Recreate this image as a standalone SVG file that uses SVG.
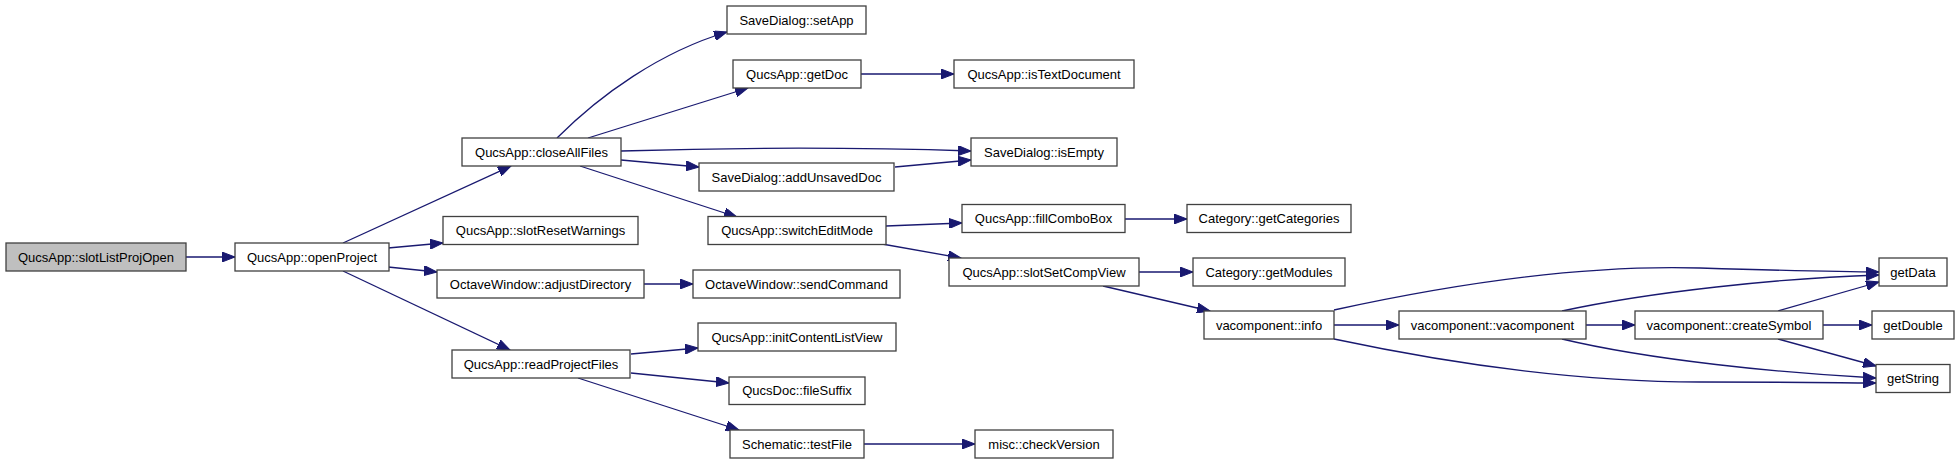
<svg xmlns="http://www.w3.org/2000/svg" width="1960" height="464" viewBox="0 0 1960 464">
<style>
.n rect{fill:#fff;stroke:#404040;stroke-width:1.3}
.n text{font-family:"Liberation Sans",Arial,sans-serif;font-size:13px;fill:#000;text-anchor:middle}
#e path{fill:none;stroke:#191970;stroke-width:1.3;marker-end:url(#a)}
</style>
<defs>
<marker id="a" markerUnits="userSpaceOnUse" markerWidth="14" markerHeight="10" refX="13" refY="5" orient="auto">
<path d="M0,0 L13,5 L0,10 z" fill="#191970" stroke="#191970" stroke-width="1"/>
</marker>
</defs>
<rect width="1960" height="464" fill="#fff"/>
<g id="e">
<path d="M186,257 L235,257"/>
<path d="M343,243 L511,166"/>
<path d="M388,248 L443,243"/>
<path d="M388,267 L437,272"/>
<path d="M343,271 L510,350"/>
<path d="M557,138 C600,95 660,52 727,32"/>
<path d="M588,138 L748,88"/>
<path d="M621,151 C750,147 850,147 971,151"/>
<path d="M621,160 L699,167"/>
<path d="M580,166 L737,217"/>
<path d="M895,167 L971,160"/>
<path d="M861,74 L954,74"/>
<path d="M886,226 L962,223"/>
<path d="M882,244 L961,258"/>
<path d="M1125,219 L1187,219"/>
<path d="M1139,272 L1193,272"/>
<path d="M1103,286 L1210,311"/>
<path d="M644,284 L693,284"/>
<path d="M631,354 L698,348"/>
<path d="M631,373 L729,383"/>
<path d="M578,378 L739,430"/>
<path d="M864,444 L975,444"/>
<path d="M1334,310 C1480,278 1600,265 1700,268 S1850,272 1879,272"/>
<path d="M1334,325 L1399,325"/>
<path d="M1334,339 C1480,370 1600,382 1700,382 S1850,383 1876,383"/>
<path d="M1562,311 C1650,292 1780,278 1879,275"/>
<path d="M1586,325 L1635,325"/>
<path d="M1562,339 C1650,360 1780,373 1876,378"/>
<path d="M1778,311 L1879,282"/>
<path d="M1823,325 L1872,325"/>
<path d="M1778,339 L1876,366"/>
</g>
<g id="slotListProjOpen" class="n"><rect x="6" y="243" width="180" height="28" style="fill:#bfbfbf"/><text x="96" y="261.5">QucsApp::slotListProjOpen</text></g>
<g id="openProject" class="n"><rect x="235" y="243" width="154" height="28"/><text x="312" y="261.5">QucsApp::openProject</text></g>
<g id="closeAllFiles" class="n"><rect x="462" y="138" width="159" height="28"/><text x="541.5" y="156.5">QucsApp::closeAllFiles</text></g>
<g id="slotResetWarnings" class="n"><rect x="443" y="216.5" width="195" height="28"/><text x="540.5" y="235">QucsApp::slotResetWarnings</text></g>
<g id="adjustDirectory" class="n"><rect x="437" y="270" width="207" height="28"/><text x="540.5" y="288.5">OctaveWindow::adjustDirectory</text></g>
<g id="readProjectFiles" class="n"><rect x="452" y="350" width="178" height="28"/><text x="541" y="368.5">QucsApp::readProjectFiles</text></g>
<g id="setApp" class="n"><rect x="727" y="6" width="139" height="28"/><text x="796.5" y="24.5">SaveDialog::setApp</text></g>
<g id="getDoc" class="n"><rect x="733" y="60" width="128" height="28"/><text x="797" y="78.5">QucsApp::getDoc</text></g>
<g id="addUnsavedDoc" class="n"><rect x="699" y="163" width="195" height="28"/><text x="796.5" y="181.5">SaveDialog::addUnsavedDoc</text></g>
<g id="switchEditMode" class="n"><rect x="708" y="216.5" width="178" height="28"/><text x="797" y="235">QucsApp::switchEditMode</text></g>
<g id="sendCommand" class="n"><rect x="693" y="270" width="207" height="28"/><text x="796.5" y="288.5">OctaveWindow::sendCommand</text></g>
<g id="initContentListView" class="n"><rect x="698" y="323" width="198" height="28"/><text x="797" y="341.5">QucsApp::initContentListView</text></g>
<g id="fileSuffix" class="n"><rect x="729" y="377" width="136" height="27.5"/><text x="797" y="395">QucsDoc::fileSuffix</text></g>
<g id="testFile" class="n"><rect x="730" y="430" width="134" height="28"/><text x="797" y="448.5">Schematic::testFile</text></g>
<g id="isTextDocument" class="n"><rect x="954" y="60" width="180" height="28"/><text x="1044" y="78.5">QucsApp::isTextDocument</text></g>
<g id="isEmpty" class="n"><rect x="971" y="138" width="146" height="28"/><text x="1044" y="156.5">SaveDialog::isEmpty</text></g>
<g id="fillComboBox" class="n"><rect x="962" y="204.5" width="163" height="28"/><text x="1043.5" y="223">QucsApp::fillComboBox</text></g>
<g id="slotSetCompView" class="n"><rect x="949" y="258" width="190" height="28"/><text x="1044" y="276.5">QucsApp::slotSetCompView</text></g>
<g id="checkVersion" class="n"><rect x="975" y="430" width="138" height="28"/><text x="1044" y="448.5">misc::checkVersion</text></g>
<g id="getCategories" class="n"><rect x="1187" y="204.5" width="164" height="28"/><text x="1269" y="223">Category::getCategories</text></g>
<g id="getModules" class="n"><rect x="1193" y="258" width="152" height="28"/><text x="1269" y="276.5">Category::getModules</text></g>
<g id="info" class="n"><rect x="1204" y="311" width="130" height="28"/><text x="1269" y="329.5">vacomponent::info</text></g>
<g id="vacomponent" class="n"><rect x="1399" y="311" width="187" height="28"/><text x="1492.5" y="329.5">vacomponent::vacomponent</text></g>
<g id="createSymbol" class="n"><rect x="1635" y="311" width="188" height="28"/><text x="1729" y="329.5">vacomponent::createSymbol</text></g>
<g id="getData" class="n"><rect x="1879" y="258" width="68" height="28"/><text x="1913" y="276.5">getData</text></g>
<g id="getDouble" class="n"><rect x="1872" y="311" width="82" height="28"/><text x="1913" y="329.5">getDouble</text></g>
<g id="getString" class="n"><rect x="1876" y="364.5" width="74" height="28"/><text x="1913" y="383">getString</text></g>
</svg>
